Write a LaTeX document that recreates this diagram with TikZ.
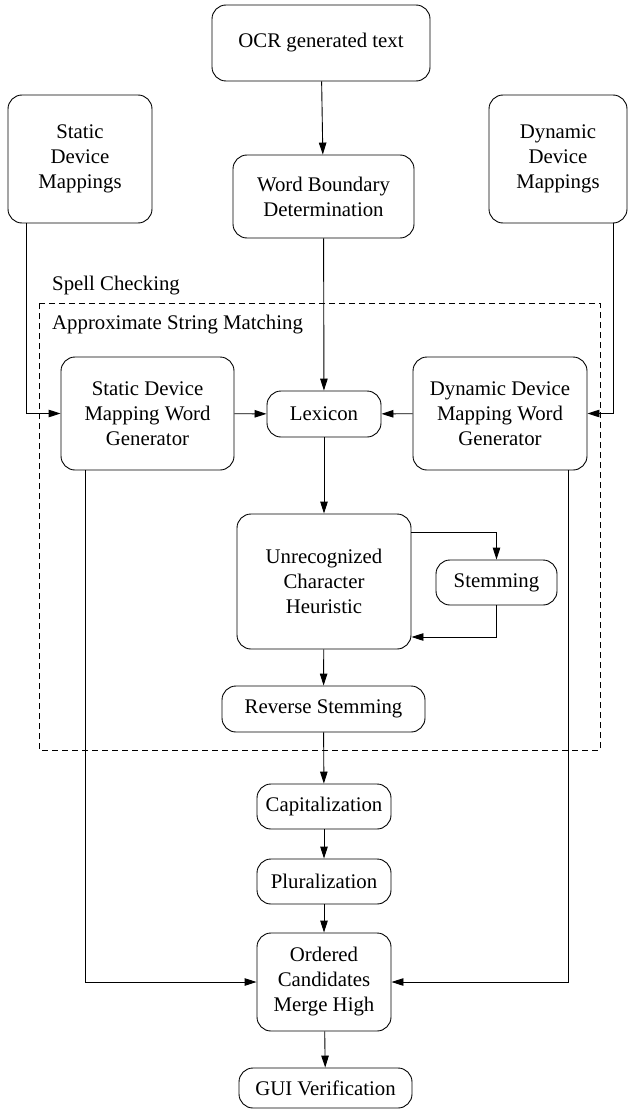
\documentclass[tikz,border=0pt]{standalone}
\usepackage{fontspec}
\setmainfont{Liberation Serif}
\usetikzlibrary{arrows.meta}
\begin{document}
\begin{tikzpicture}[x=1pt,y=-1pt,
  box/.style={draw, line width=0.9pt, rounded corners=14pt, align=center, inner sep=0pt, font=\fontsize{20.8}{25}\selectfont},
  arr/.style={line width=0.9pt, -{Triangle[length=12pt,width=7.5pt]}},
  lbl/.style={anchor=west, inner sep=0pt, font=\fontsize{20.8}{25}\selectfont}]
\useasboundingbox (0,0) rectangle (628,1113);
% nodes
\node[box, minimum width=218pt, minimum height=76pt] (ocr) at (321,43) {OCR generated text};
\node[box, minimum width=181pt, minimum height=83pt] (wb) at (323.5,196.5) {Word Boundary\\Determination};
\node[box, minimum width=144pt, minimum height=128pt] (sm) at (80,159) {Static\\Device\\Mappings};
\node[box, minimum width=138pt, minimum height=128pt] (dm) at (558,159) {Dynamic\\Device\\Mappings};
\node[box, minimum width=173pt, minimum height=113pt] (sg) at (147.5,413.5) {Static Device\\Mapping Word\\Generator};
\node[box, minimum width=114pt, minimum height=46pt] (lx) at (324,414) {Lexicon};
\node[box, minimum width=174pt, minimum height=113pt] (dg) at (500,413.5) {Dynamic Device\\Mapping Word\\Generator};
\node[box, minimum width=174pt, minimum height=135pt] (ur) at (324,581.5) {Unrecognized\\Character\\Heuristic};
\node[box, minimum width=121pt, minimum height=45pt] (st) at (496.5,582.5) {Stemming};
\node[box, minimum width=203pt, minimum height=46pt] (rs) at (323.5,709) {Reverse Stemming};
\node[box, minimum width=134pt, minimum height=45pt] (cp) at (324,806.5) {Capitalization};
\node[box, minimum width=134pt, minimum height=45pt] (pl) at (324,881.5) {Pluralization};
\node[box, minimum width=134pt, minimum height=98pt] (or) at (324,982) {Ordered\\Candidates\\Merge High};
\node[box, minimum width=173pt, minimum height=40pt] (gui) at (325.5,1088) {GUI Verification};
% dashed region
\draw[line width=0.8pt, dash pattern=on 6pt off 4pt] (39,303) rectangle (600,750);
\node[lbl] (spell) at (52,286) {Spell Checking};
\node[lbl] (asm) at (52,325) {Approximate String Matching};
% helper coordinates
\coordinate (xsm) at (26,0);
\coordinate (xdm) at (613,0);
\coordinate (xsg) at (85,0);
\coordinate (xdg) at (568,0);
\coordinate (yst) at (0,532);
\coordinate (ysb) at (0,637);
% connectors
\draw[arr] (ocr) -- (wb);
\draw[arr] (wb) -- (lx);
\draw[arr] (sm.south -| xsm) |- (sg.west);
\draw[arr] (dm.south -| xdm) |- (dg.east);
\draw[arr] (sg) -- (lx);
\draw[arr] (dg) -- (lx);
\draw[arr] (lx) -- (ur);
\draw[arr] (ur.east |- yst) -| (st.north);
\draw[arr] (st.south) |- (ur.east |- ysb);
\draw[arr] (ur) -- (rs);
\draw[arr] (rs) -- (cp);
\draw[arr] (cp) -- (pl);
\draw[arr] (pl) -- (or);
\draw[arr] (or) -- (gui);
\draw[arr] (sg.south -| xsg) |- (or.west);
\draw[arr] (dg.south -| xdg) |- (or.east);
\end{tikzpicture}
\end{document}
